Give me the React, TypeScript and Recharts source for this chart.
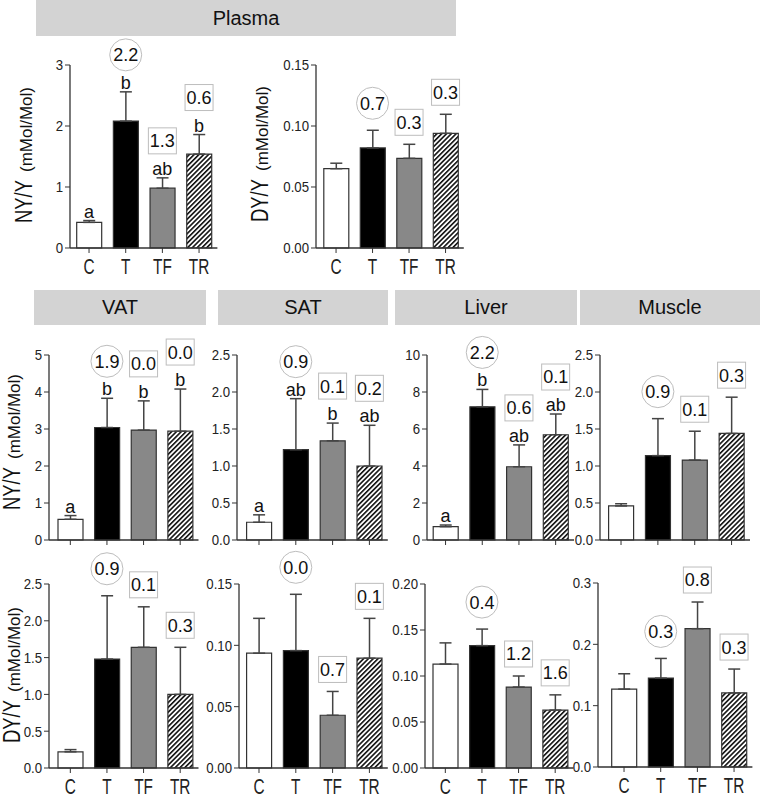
import { ComposedChart, Bar, Cell, Line, XAxis, YAxis, ErrorBar } from 'recharts'

const groups = ['C', 'T', 'TF', 'TR']

// Plasma
const plasmaNyMean = [0.42, 2.08, 0.98, 1.54]
const plasmaNyErr = [0.03, 0.48, 0.17, 0.32]
const plasmaNyLetters = ['a', 'b', 'ab', 'b']
const plasmaNyNotes = ['', '2.2', '1.3', '0.6']
const plasmaNyTicks = [0, 1, 2, 3]

const plasmaDyMean = [0.065, 0.082, 0.0735, 0.094]
const plasmaDyErr = [0.0045, 0.0145, 0.0115, 0.0156]
const plasmaDyNotes = ['', '0.7', '0.3', '0.3']
const plasmaDyTicks = [0, 0.05, 0.1, 0.15]

// NY/Y tissues
const vatNyMean = [0.56, 3.04, 2.97, 2.94]
const vatNyErr = [0.1, 0.79, 0.79, 1.14]
const vatNyLetters = ['a', 'b', 'b', 'b']
const vatNyNotes = ['', '1.9', '0.0', '0.0']
const vatNyTicks = [0, 1, 2, 3, 4, 5]

const satNyMean = [0.24, 1.22, 1.34, 1.0]
const satNyErr = [0.1, 0.69, 0.24, 0.55]
const satNyLetters = ['a', 'ab', 'b', 'ab']
const satNyNotes = ['', '0.9', '0.1', '0.2']
const satNyTicks = [0, 0.5, 1, 1.5, 2, 2.5]

const liverNyMean = [0.72, 7.2, 3.96, 5.69]
const liverNyErr = [0.09, 0.94, 1.18, 1.12]
const liverNyLetters = ['a', 'b', 'ab', 'ab']
const liverNyNotes = ['', '2.2', '0.6', '0.1']
const liverNyTicks = [0, 2, 4, 6, 8, 10]

const muscleNyMean = [0.46, 1.14, 1.08, 1.44]
const muscleNyErr = [0.03, 0.5, 0.39, 0.49]
const muscleNyNotes = ['', '0.9', '0.1', '0.3']
const muscleNyTicks = [0, 0.5, 1, 1.5, 2, 2.5]

// DY/Y tissues
const vatDyMean = [0.22, 1.48, 1.64, 1.0]
const vatDyErr = [0.03, 0.86, 0.55, 0.64]
const vatDyNotes = ['', '0.9', '0.1', '0.3']
const vatDyTicks = [0, 0.5, 1, 1.5, 2, 2.5]

const satDyMean = [0.0936, 0.0957, 0.043, 0.0895]
const satDyErr = [0.0284, 0.0459, 0.0194, 0.0325]
const satDyNotes = ['', '0.0', '0.7', '0.1']
const satDyTicks = [0, 0.05, 0.1, 0.15]

const liverDyMean = [0.113, 0.133, 0.088, 0.063]
const liverDyErr = [0.023, 0.018, 0.012, 0.0165]
const liverDyNotes = ['', '0.4', '1.2', '1.6']
const liverDyTicks = [0, 0.05, 0.1, 0.15, 0.2]

const muscleDyMean = [0.127, 0.145, 0.2255, 0.1207]
const muscleDyErr = [0.025, 0.032, 0.0435, 0.039]
const muscleDyNotes = ['', '0.3', '0.8', '0.3']
const muscleDyTicks = [0, 0.1, 0.2, 0.3]

const FONT = '"Liberation Sans", Arial, Helvetica, sans-serif'
const fills = ['#ffffff', '#000000', '#888888', 'url(#hatch)']
const YW = 60
const MT = 40
const XH = 30
const MR = 12

const renderNote = (props: any) => {
  const { cx, cy, index, payload } = props
  if (cx == null || cy == null) return <g key={`n${index}`} />
  const hasLetter = !!payload.letter
  const circled = index === 1
  const ny = hasLetter ? cy - 37 : circled ? cy - 27 : cy - 22
  return (
    <g key={`n${index}`} fontFamily={FONT}>
      {hasLetter && (
        <text x={cx} y={cy - 3} textAnchor="middle" fontSize={18} fill="#111">
          {payload.letter}
        </text>
      )}
      {payload.note &&
        (circled ? (
          <circle cx={cx} cy={ny} r={16} fill="#fff" stroke="#bdbdbd" />
        ) : (
          <rect x={cx - 14} y={ny - 13} width={28} height={26} fill="#fff" stroke="#bdbdbd" />
        ))}
      {payload.note && (
        <text x={cx} y={ny} dy="0.36em" textAnchor="middle" fontSize={18} fill="#111">
          {payload.note}
        </text>
      )}
    </g>
  )
}

interface IPanelProps {
  means: number[]
  errs: number[]
  letters?: string[]
  notes: string[]
  ticks: number[]
  digits: number
  axisX: number
  x0: number
  x1: number
  top: number
  bottom: number
  xLabels: boolean
}

const Panel = ({ means, errs, letters, notes, ticks, digits, axisX, x0, x1, top, bottom, xLabels }: IPanelProps) => {
  const data = groups.map((g, i) => ({
    g,
    mean: means[i],
    err: [0, errs[i]],
    top: means[i] + errs[i],
    letter: letters ? letters[i] : '',
    note: notes[i]
  }))
  const width = YW + (x1 - axisX) + MR
  const height = MT + (bottom - top) + XH
  const yMax = ticks[ticks.length - 1]
  return (
    <div style={{ position: 'absolute', left: axisX - YW, top: top - MT }}>
      <ComposedChart width={width} height={height} data={data} margin={{ top: MT, right: MR, bottom: 0, left: 0 }}>
        <XAxis
          dataKey="g"
          height={XH}
          padding={{ left: x0 - axisX, right: 0 }}
          axisLine={{ stroke: '#333', strokeWidth: 1.3 }}
          tickLine={{ stroke: '#333' }}
          tickSize={5}
          interval={0}
          tick={({ x, y, payload }: any) =>
            xLabels ? (
              <text
                transform={`translate(${x},${y}) scale(0.7,1)`}
                textAnchor="middle"
                dy={19}
                fontSize={22}
                fill="#222"
                fontFamily={FONT}
              >
                {payload.value}
              </text>
            ) : (
              <g />
            )
          }
        />
        <YAxis
          width={YW}
          domain={[0, yMax]}
          ticks={ticks}
          interval={0}
          axisLine={{ stroke: '#333', strokeWidth: 1.3 }}
          tickLine={{ stroke: '#333' }}
          tickSize={5}
          tick={({ x, y, payload }: any) => (
            <text
              transform={`translate(${x},${y}) scale(0.88,1)`}
              textAnchor="end"
              dy="0.36em"
              fontSize={15}
              fill="#222"
              fontFamily={FONT}
            >
              {Number(payload.value).toFixed(digits)}
            </text>
          )}
        />
        <Bar dataKey="mean" barSize={25} isAnimationActive={false}>
          {data.map((d, i) => (
            <Cell key={d.g} fill={fills[i]} stroke="#333" strokeWidth={1.2} />
          ))}
          <ErrorBar dataKey="err" width={6} stroke="#444" strokeWidth={1.5} direction="y" isAnimationActive={false} />
        </Bar>
        <Line
          dataKey="top"
          stroke="none"
          dot={renderNote}
          activeDot={false}
          legendType="none"
          isAnimationActive={false}
        />
      </ComposedChart>
    </div>
  )
}

const Header = ({ text, left, top, width, height }: { text: string; left: number; top: number; width: number; height: number }) => (
  <div
    style={{
      position: 'absolute',
      left,
      top,
      width,
      height,
      background: '#d3d3d3',
      display: 'flex',
      alignItems: 'center',
      justifyContent: 'center',
      fontFamily: FONT,
      fontSize: 20,
      color: '#111'
    }}
  >
    {text}
  </div>
)

const AxisTitle = ({ main, x, y }: { main: string; x: number; y: number }) => (
  <svg style={{ position: 'absolute', left: 0, top: 0, overflow: 'visible' }} width={1} height={1}>
    <g transform={`translate(${x},${y}) rotate(-90)`} fontFamily={FONT} fill="#111">
      <text x={-70} y={0} fontSize={23} textLength={43} lengthAdjust="spacingAndGlyphs">
        {main}
      </text>
      <text x={-19} y={0} fontSize={17}>
        (mMol/Mol)
      </text>
    </g>
  </svg>
)

export default function App() {
  return (
    <div style={{ position: 'absolute', left: 0, top: 0, width: 762, height: 798, background: '#fff', overflow: 'hidden' }}>
      <svg width={0} height={0} style={{ position: 'absolute' }}>
        <defs>
          <pattern id="hatch" patternUnits="userSpaceOnUse" width={3.4} height={3.4} patternTransform="rotate(45)">
            <rect width={3.4} height={3.4} fill="#fff" />
            <line x1={0.8} y1={0} x2={0.8} y2={3.4} stroke="#000" strokeWidth={1.5} />
          </pattern>
        </defs>
      </svg>

      <Header text="Plasma" left={36} top={0} width={420} height={36} />
      <Header text="VAT" left={34} top={290} width={172} height={35} />
      <Header text="SAT" left={218} top={290} width={170} height={35} />
      <Header text="Liver" left={395} top={290} width={182} height={35} />
      <Header text="Muscle" left={580} top={290} width={180} height={35} />

      <AxisTitle main="NY/Y" x={32} y={153} />
      <AxisTitle main="DY/Y" x={268} y={152} />
      <AxisTitle main="NY/Y" x={20} y={440} />
      <AxisTitle main="DY/Y" x={20} y={673} />

      <Panel means={plasmaNyMean} errs={plasmaNyErr} letters={plasmaNyLetters} notes={plasmaNyNotes} ticks={plasmaNyTicks} digits={0}
        axisX={70} x0={70.7} x1={217.4} top={65} bottom={248} xLabels />
      <Panel means={plasmaDyMean} errs={plasmaDyErr} notes={plasmaDyNotes} ticks={plasmaDyTicks} digits={2}
        axisX={316} x0={317.8} x1={463.8} top={65} bottom={248} xLabels />

      <Panel means={vatNyMean} errs={vatNyErr} letters={vatNyLetters} notes={vatNyNotes} ticks={vatNyTicks} digits={0}
        axisX={49} x0={52} x1={198.5} top={355} bottom={540} xLabels={false} />
      <Panel means={satNyMean} errs={satNyErr} letters={satNyLetters} notes={satNyNotes} ticks={satNyTicks} digits={1}
        axisX={237} x0={240.6} x1={387.8} top={355} bottom={540} xLabels={false} />
      <Panel means={liverNyMean} errs={liverNyErr} letters={liverNyLetters} notes={liverNyNotes} ticks={liverNyTicks} digits={0}
        axisX={427} x0={427.2} x1={574} top={355} bottom={540} xLabels={false} />
      <Panel means={muscleNyMean} errs={muscleNyErr} notes={muscleNyNotes} ticks={muscleNyTicks} digits={1}
        axisX={600} x0={602.6} x1={750} top={355} bottom={540} xLabels={false} />

      <Panel means={vatDyMean} errs={vatDyErr} notes={vatDyNotes} ticks={vatDyTicks} digits={1}
        axisX={49} x0={52} x1={198.5} top={584} bottom={768} xLabels />
      <Panel means={satDyMean} errs={satDyErr} notes={satDyNotes} ticks={satDyTicks} digits={2}
        axisX={239} x0={240.6} x1={387.8} top={584} bottom={768} xLabels />
      <Panel means={liverDyMean} errs={liverDyErr} notes={liverDyNotes} ticks={liverDyTicks} digits={2}
        axisX={425} x0={427} x1={573.5} top={584} bottom={768} xLabels />
      <Panel means={muscleDyMean} errs={muscleDyErr} notes={muscleDyNotes} ticks={muscleDyTicks} digits={1}
        axisX={598} x0={605.7} x1={752.4} top={583} bottom={767} xLabels />
    </div>
  )
}
